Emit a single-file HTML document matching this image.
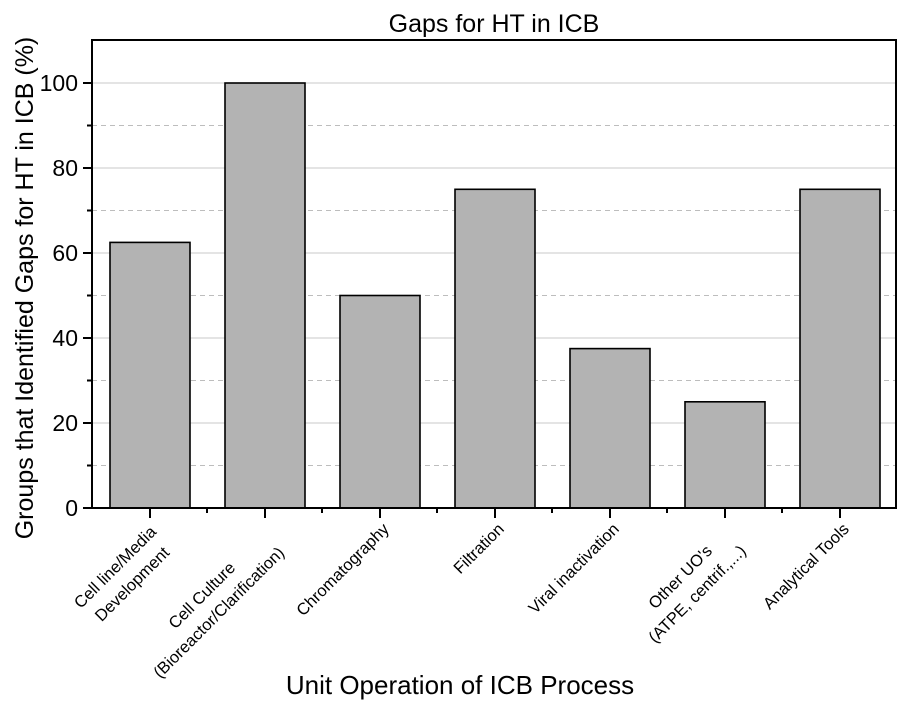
<!DOCTYPE html>
<html><head><meta charset="utf-8"><style>body{margin:0;background:#fff}svg{display:block}text{font-family:"Liberation Sans",Arial,sans-serif;fill:#000}</style></head><body>
<svg width="908" height="702" viewBox="0 0 908 702">
<text x="494" y="32" font-size="25" text-anchor="middle">Gaps for HT in ICB</text>
<g stroke="#c8c8c8" stroke-width="1">
<line x1="92" x2="896" y1="423" y2="423"/><line x1="92" x2="896" y1="338" y2="338"/><line x1="92" x2="896" y1="253" y2="253"/><line x1="92" x2="896" y1="168" y2="168"/><line x1="92" x2="896" y1="83" y2="83"/>
</g>
<g stroke="#bdbdbd" stroke-width="1" stroke-dasharray="5,4">
<line x1="92" x2="896" y1="465.5" y2="465.5"/><line x1="92" x2="896" y1="380.5" y2="380.5"/><line x1="92" x2="896" y1="295.5" y2="295.5"/><line x1="92" x2="896" y1="210.5" y2="210.5"/><line x1="92" x2="896" y1="125.5" y2="125.5"/>
</g>
<g fill="#b3b3b3" stroke="#000" stroke-width="1.6">
<rect x="110" y="242.4" width="80" height="265.6"/>
<rect x="225" y="83" width="80" height="425"/>
<rect x="340" y="295.5" width="80" height="212.5"/>
<rect x="455" y="189.3" width="80" height="318.7"/>
<rect x="570" y="348.6" width="80" height="159.4"/>
<rect x="685" y="401.8" width="80" height="106.2"/>
<rect x="800" y="189.3" width="80" height="318.7"/>
</g>
<g stroke="#000" stroke-width="2" fill="none">
<rect x="92" y="40" width="804" height="468"/>
<line x1="83" x2="92" y1="508" y2="508"/><line x1="83" x2="92" y1="423" y2="423"/><line x1="83" x2="92" y1="338" y2="338"/><line x1="83" x2="92" y1="253" y2="253"/><line x1="83" x2="92" y1="168" y2="168"/><line x1="83" x2="92" y1="83" y2="83"/>
<line x1="87" x2="92" y1="465.5" y2="465.5"/><line x1="87" x2="92" y1="380.5" y2="380.5"/><line x1="87" x2="92" y1="295.5" y2="295.5"/><line x1="87" x2="92" y1="210.5" y2="210.5"/><line x1="87" x2="92" y1="125.5" y2="125.5"/>
<line x1="150" x2="150" y1="508" y2="518"/><line x1="265" x2="265" y1="508" y2="518"/><line x1="380" x2="380" y1="508" y2="518"/><line x1="495" x2="495" y1="508" y2="518"/><line x1="610" x2="610" y1="508" y2="518"/><line x1="725" x2="725" y1="508" y2="518"/><line x1="840" x2="840" y1="508" y2="518"/>
<line x1="207" x2="207" y1="508" y2="513"/><line x1="322" x2="322" y1="508" y2="513"/><line x1="437" x2="437" y1="508" y2="513"/><line x1="552" x2="552" y1="508" y2="513"/><line x1="667" x2="667" y1="508" y2="513"/><line x1="782" x2="782" y1="508" y2="513"/>
</g>
<g font-size="23" text-anchor="end">
<text x="78" y="516">0</text><text x="78" y="431">20</text><text x="78" y="346">40</text><text x="78" y="261">60</text><text x="78" y="176">80</text><text x="78" y="91">100</text>
</g>
<g font-size="16.5" text-anchor="middle">
<g transform="translate(160,530) rotate(-45)"><text x="-58" y="0">Cell line/Media</text><text x="-58" y="24">Development</text></g>
<g transform="translate(275,530) rotate(-45)"><text x="-98" y="0">Cell Culture</text><text x="-98" y="24">(Bioreactor/Clarification)</text></g>
<g transform="translate(390,530) rotate(-45)"><text x="0" y="0" text-anchor="end">Chromatography</text></g>
<g transform="translate(505,530) rotate(-45)"><text x="0" y="0" text-anchor="end">Filtration</text></g>
<g transform="translate(620,530) rotate(-45)"><text x="0" y="0" text-anchor="end">Viral inactivation</text></g>
<g transform="translate(735,530) rotate(-45)"><text x="-72" y="0">Other UO's</text><text x="-72" y="24">(ATPE, centrif.,...)</text></g>
<g transform="translate(850,530) rotate(-45)"><text x="0" y="0" text-anchor="end">Analytical Tools</text></g>
</g>
<text x="460" y="694" font-size="26" text-anchor="middle">Unit Operation of ICB Process</text>
<text transform="translate(33,288) rotate(-90)" font-size="25" text-anchor="middle">Groups that Identified Gaps for HT in ICB (%)</text>
</svg>
</body></html>
